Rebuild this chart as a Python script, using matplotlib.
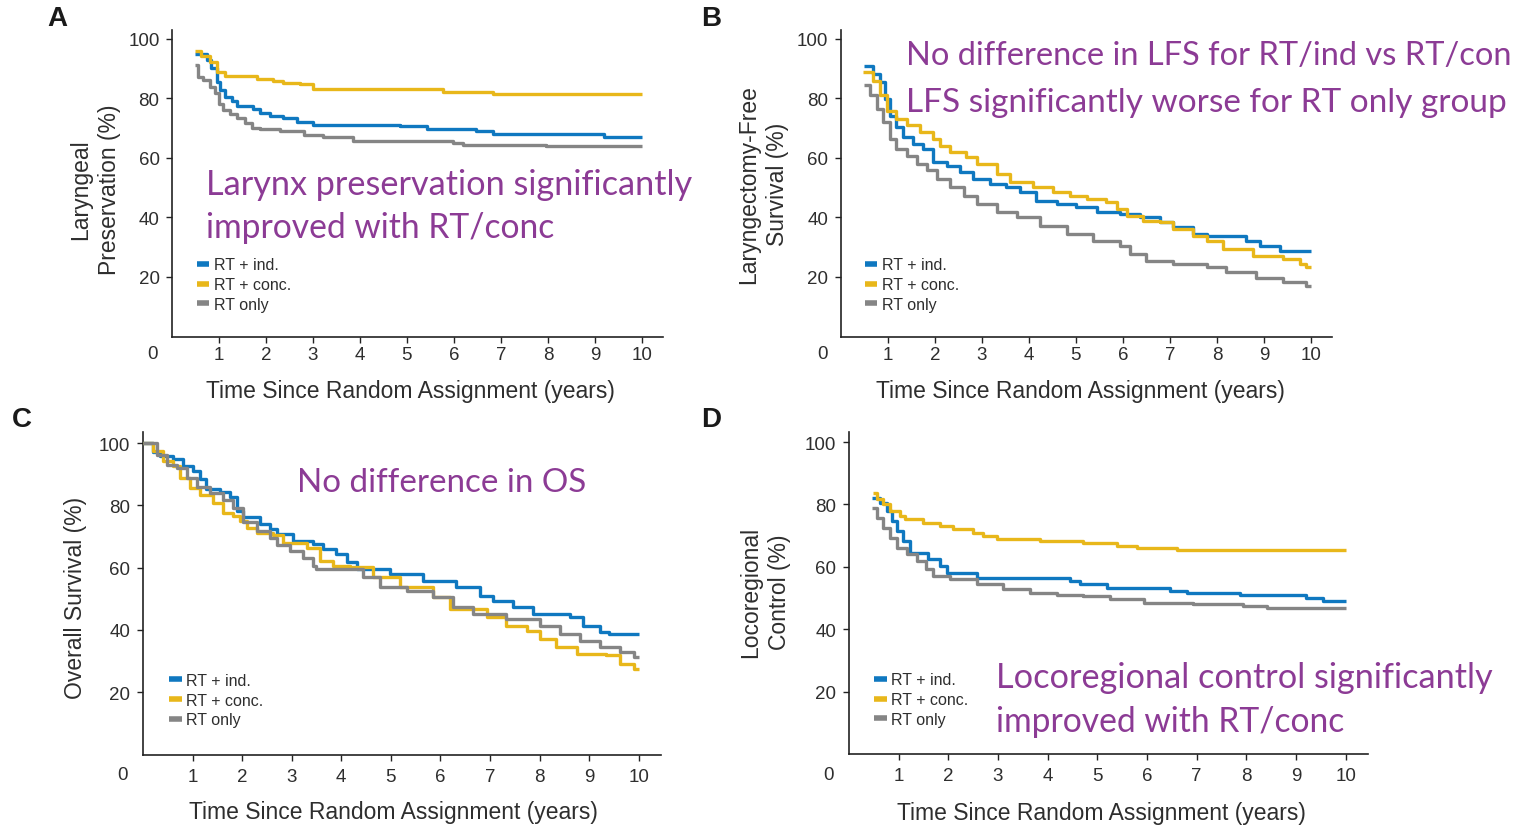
import matplotlib
matplotlib.use("Agg")
import matplotlib.pyplot as plt
from matplotlib.lines import Line2D

# ---------------- data ----------------
series_labels = ["RT + ind.", "RT + conc.", "RT only"]
x_ticks = [1, 2, 3, 4, 5, 6, 7, 8, 9, 10]
y_ticks = [20, 40, 60, 80, 100]
x_title = "Time Since Random Assignment (years)"

# Panel A: Laryngeal preservation
A_ind_t = [0.49, 0.74, 0.84, 0.95, 1.02, 1.13, 1.27, 1.38, 1.73, 1.87, 2.09, 2.37, 2.65, 3.0, 4.85, 5.42, 6.48, 6.84, 9.2, 10.0]
A_ind_v = [95.0, 92.8, 90.2, 85.6, 82.8, 80.6, 79.1, 77.6, 76.4, 75.0, 74.2, 73.3, 72.0, 71.1, 70.6, 69.7, 68.9, 68.0, 67.2, 67.2]
A_conc_t = [0.49, 0.62, 0.81, 0.95, 1.13, 1.8, 2.16, 2.37, 2.72, 3.0, 5.77, 6.84, 10.0]
A_conc_v = [95.8, 94.3, 92.2, 89.0, 87.6, 86.7, 85.9, 85.3, 84.7, 83.3, 82.2, 81.6, 81.6]
A_rt_t = [0.49, 0.56, 0.67, 0.81, 0.91, 0.99, 1.09, 1.23, 1.38, 1.55, 1.7, 1.87, 2.3, 2.8, 3.22, 3.86, 5.99, 6.2, 7.97, 10.0]
A_rt_v = [91.1, 87.2, 86.1, 83.9, 81.7, 78.3, 76.1, 74.7, 73.3, 71.7, 70.2, 69.8, 68.9, 67.8, 67.1, 65.8, 65.0, 64.4, 63.9, 63.9]

# Panel B: Laryngectomy-free survival
B_ind_t = [0.49, 0.69, 0.83, 0.94, 1.04, 1.18, 1.33, 1.54, 1.75, 1.96, 2.25, 2.53, 2.82, 3.17, 3.52, 3.81, 4.16, 4.59, 5.01, 5.44, 5.94, 6.36, 6.79, 7.07, 7.5, 7.78, 8.63, 8.91, 9.34, 10.0]
B_ind_v = [91.0, 88.2, 85.4, 79.8, 74.2, 70.3, 66.9, 64.7, 63.0, 58.5, 57.4, 55.2, 52.9, 51.3, 50.1, 48.5, 45.7, 44.5, 43.4, 41.7, 41.2, 40.1, 38.4, 36.7, 34.4, 33.7, 32.2, 30.5, 28.9, 28.9]
B_conc_t = [0.46, 0.69, 0.83, 0.97, 1.18, 1.4, 1.68, 1.96, 2.11, 2.32, 2.67, 2.89, 3.31, 3.6, 4.09, 4.52, 4.87, 5.23, 5.65, 5.87, 6.08, 6.43, 6.79, 7.07, 7.5, 7.78, 8.13, 8.77, 9.41, 9.77, 9.9, 10.0]
B_conc_v = [88.8, 86.0, 81.0, 75.9, 73.1, 71.1, 68.6, 66.4, 64.1, 61.9, 60.2, 58.0, 54.6, 51.8, 50.1, 48.5, 47.3, 46.2, 45.1, 42.8, 40.6, 38.9, 38.4, 36.1, 33.9, 32.2, 29.4, 27.2, 26.1, 24.4, 23.5, 23.5]
B_rt_t = [0.49, 0.62, 0.76, 0.9, 1.04, 1.18, 1.4, 1.61, 1.82, 2.04, 2.32, 2.61, 2.89, 3.31, 3.74, 4.23, 4.8, 5.37, 5.94, 6.15, 6.5, 7.07, 7.78, 8.2, 8.84, 9.41, 9.9, 10.0]
B_rt_v = [84.4, 81.0, 76.5, 72.1, 66.4, 63.0, 60.8, 58.0, 55.8, 52.9, 50.1, 47.3, 44.5, 41.7, 40.0, 37.2, 34.4, 32.2, 30.5, 27.7, 25.5, 24.4, 23.3, 21.6, 19.6, 18.4, 17.0, 17.0]

# Panel C: Overall survival
C_ind_t = [0.0, 0.21, 0.34, 0.61, 0.81, 1.01, 1.15, 1.28, 1.55, 1.75, 1.89, 2.02, 2.36, 2.56, 2.7, 3.03, 3.43, 3.64, 3.9, 4.11, 4.31, 4.98, 5.65, 6.32, 6.79, 7.06, 7.47, 7.87, 8.61, 8.88, 9.21, 9.41, 10.0]
C_ind_v = [100, 97.0, 95.9, 94.9, 92.7, 91.1, 88.4, 85.2, 84.2, 82.6, 78.3, 76.1, 74.0, 72.4, 70.8, 68.6, 67.6, 66.0, 64.4, 61.7, 59.6, 58.0, 55.8, 53.7, 51.0, 49.4, 47.3, 45.1, 44.1, 41.4, 39.3, 38.7, 38.7]
C_conc_t = [0.0, 0.21, 0.41, 0.61, 0.75, 0.95, 1.15, 1.42, 1.62, 1.82, 1.96, 2.09, 2.29, 2.63, 2.83, 3.3, 3.57, 3.84, 4.17, 4.64, 5.18, 5.85, 6.19, 6.93, 7.33, 7.74, 8.0, 8.34, 8.75, 9.35, 9.62, 9.9, 10.0]
C_conc_v = [100, 97.3, 94.1, 92.5, 88.8, 85.6, 83.4, 80.8, 77.6, 76.5, 74.9, 72.8, 71.2, 70.6, 68.0, 66.4, 62.1, 60.6, 60.1, 56.9, 53.7, 50.5, 46.7, 44.1, 41.4, 39.8, 37.1, 34.4, 32.3, 31.8, 29.1, 27.5, 27.5]
C_rt_t = [0.0, 0.28, 0.48, 0.68, 0.88, 1.08, 1.35, 1.62, 1.82, 2.02, 2.29, 2.56, 2.7, 2.96, 3.23, 3.43, 3.5, 4.11, 4.44, 4.78, 5.32, 5.85, 6.26, 6.66, 7.33, 8.0, 8.41, 8.81, 9.21, 9.62, 9.9, 10.0]
C_rt_v = [100, 96.2, 93.0, 91.9, 88.7, 86.0, 83.9, 81.7, 79.1, 74.8, 71.6, 69.5, 67.3, 65.2, 63.1, 60.4, 59.5, 59.5, 57.0, 53.7, 52.6, 50.5, 47.3, 45.1, 43.5, 41.4, 38.7, 36.5, 34.4, 32.8, 31.4, 31.4]

# Panel D: Locoregional control
D_ind_t = [0.46, 0.62, 0.76, 0.86, 0.96, 1.09, 1.23, 1.6, 1.83, 1.97, 2.57, 4.45, 4.65, 5.19, 6.46, 6.8, 7.87, 9.21, 9.55, 10.0]
D_ind_v = [82.1, 80.5, 77.9, 74.7, 71.5, 68.3, 64.5, 62.4, 60.3, 58.1, 56.5, 55.5, 54.4, 53.3, 52.3, 51.7, 50.9, 49.9, 49.1, 49.1]
D_conc_t = [0.49, 0.56, 0.69, 0.83, 1.03, 1.13, 1.5, 1.83, 2.1, 2.5, 2.7, 2.97, 3.84, 4.72, 5.39, 5.79, 6.6, 10.0]
D_conc_v = [83.7, 81.6, 80.0, 77.9, 76.3, 75.2, 74.2, 73.1, 72.0, 71.0, 69.9, 68.8, 68.3, 67.6, 66.7, 65.9, 65.4, 65.4]
D_rt_t = [0.46, 0.56, 0.69, 0.83, 0.96, 1.16, 1.36, 1.56, 1.7, 2.03, 2.57, 3.1, 3.64, 4.18, 4.72, 5.25, 5.93, 6.93, 7.94, 8.41, 10.0]
D_rt_v = [79.0, 75.8, 72.6, 69.4, 66.2, 64.0, 61.9, 59.3, 57.1, 56.1, 54.4, 52.8, 51.7, 51.0, 50.7, 49.6, 48.5, 48.0, 47.5, 46.9, 46.9]

# annotation texts
A_note = ["Larynx preservation significantly", "improved with RT/conc"]
B_note = ["No difference in LFS for RT/ind vs RT/con", "LFS significantly worse for RT only group"]
C_note = ["No difference in OS"]
D_note = ["Locoregional control significantly", "improved with RT/conc"]

# ---------------- style ----------------
W, H = 1524, 829
COLORS = ["#0f78c0", "#e8b71a", "#858585"]
PURPLE = "#8c3b95"
TXT = "#2e2e2e"
SANS = ["Liberation Sans", "DejaVu Sans"]
NOTE_FONT = ["Lato", "DejaVu Sans"]

plt.rcParams["font.family"] = SANS

fig = plt.figure(figsize=(W / 100, H / 100), dpi=100)
fig.patch.set_facecolor("white")


def make_axes(left, right, bottom, top):
    return fig.add_axes([left / W, 1 - bottom / H, (right - left) / W, (bottom - top) / H])


panels = [
    dict(box=(172, 663, 337.5, 31), ylim=103.0, data=[(A_ind_t, A_ind_v), (A_conc_t, A_conc_v), (A_rt_t, A_rt_v)],
         ylabel="Laryngeal\nPreservation (%)", ylab_xy=(-0.157, 0.481), xlab_xy=(0.485, -0.175),
         leg_xy=(0.050, 0.258), letter="A", letter_xy=(57, 19),
         note=A_note, note_xy=[(206, 195), (206, 238)], note_w=[487, 349],
         zero_off=(-19, -17.5), xpad=2.5),
    dict(box=(841, 1332, 337.5, 31), ylim=103.0, data=[(B_ind_t, B_ind_v), (B_conc_t, B_conc_v), (B_rt_t, B_rt_v)],
         ylabel="Laryngectomy-Free\nSurvival (%)", ylab_xy=(-0.159, 0.498), xlab_xy=(0.487, -0.175),
         leg_xy=(0.048, 0.258), letter="B", letter_xy=(711, 19),
         note=B_note, note_xy=[(906, 65), (906, 112)], note_w=[606, 602],
         zero_off=(-19, -17.5), xpad=2.5),
    dict(box=(143, 661, 755.5, 432.5), ylim=103.7, data=[(C_ind_t, C_ind_v), (C_conc_t, C_conc_v), (C_rt_t, C_rt_v)],
         ylabel="Overall Survival (%)", ylab_xy=(-0.131, 0.488), xlab_xy=(0.483, -0.178),
         leg_xy=(0.050, 0.253), letter="C", letter_xy=(22, 420),
         note=C_note, note_xy=[(297, 492)], note_w=[290],
         zero_off=(-20, -20.5), xpad=5.0),
    dict(box=(849, 1368, 755, 432.5), ylim=103.4, data=[(D_ind_t, D_ind_v), (D_conc_t, D_conc_v), (D_rt_t, D_rt_v)],
         ylabel="Locoregional\nControl (%)", ylab_xy=(-0.162, 0.505), xlab_xy=(0.486, -0.180),
         leg_xy=(0.048, 0.253), letter="D", letter_xy=(711, 420),
         note=D_note, note_xy=[(996, 688), (996, 732)], note_w=[497, 349],
         zero_off=(-21, -20.5), xpad=5.0),
]

renderer = fig.canvas.get_renderer()

for p in panels:
    ax = make_axes(*p["box"])
    ax.set_xlim(0, 10.45)
    ax.set_ylim(0, p["ylim"])
    for (t, v), c in zip(p["data"], COLORS):
        ax.step(t, v, where="post", color=c, lw=2.4, solid_capstyle="butt", zorder=3)
    for s in ("top", "right"):
        ax.spines[s].set_visible(False)
    for s in ("left", "bottom"):
        ax.spines[s].set_linewidth(1.2)
        ax.spines[s].set_color("#222222")
    ax.set_xticks(x_ticks)
    ax.set_yticks(y_ticks)
    ax.tick_params(axis="both", direction="out", length=4.5, width=1.0, color="#222222",
                   labelsize=13.5, labelcolor=TXT)
    ax.tick_params(axis="y", pad=4.5)
    ax.tick_params(axis="x", pad=p["xpad"])
    ax.annotate("0", xy=(0, 0), xycoords="data", xytext=p["zero_off"], textcoords="offset pixels",
                ha="center", va="center", fontsize=13.5, color=TXT)
    ax.set_xlabel(x_title, fontsize=16.5, color=TXT)
    ax.xaxis.set_label_coords(*p["xlab_xy"])
    ax.xaxis.label.set_va("center")
    ax.set_ylabel(p["ylabel"], fontsize=16.5, color=TXT, linespacing=1.3, multialignment="center")
    ax.yaxis.set_label_coords(*p["ylab_xy"])
    ax.yaxis.label.set_va("center")
    handles = [Line2D([], [], color=c, lw=4, solid_capstyle="butt") for c in COLORS]
    ax.legend(handles, series_labels, loc="upper left", bbox_to_anchor=p["leg_xy"], frameon=False,
              fontsize=11.5, handlelength=0.8, handletextpad=0.3, labelspacing=0.3,
              borderpad=0, borderaxespad=0, labelcolor=TXT)
    fig.text(p["letter_xy"][0] / W, 1 - p["letter_xy"][1] / H, p["letter"], fontsize=20,
             fontweight="bold", color="#1a1a1a", ha="center", va="center")
    for line, (x, y), target in zip(p["note"], p["note_xy"], p["note_w"]):
        t = fig.text(x / W, 1 - y / H, line, fontsize=20, family=NOTE_FONT, color=PURPLE,
                     ha="left", va="baseline")
        w = t.get_window_extent(renderer).width
        t.set_fontsize(20 * target / w)

fig.savefig("out.png", dpi=100, facecolor="white")
